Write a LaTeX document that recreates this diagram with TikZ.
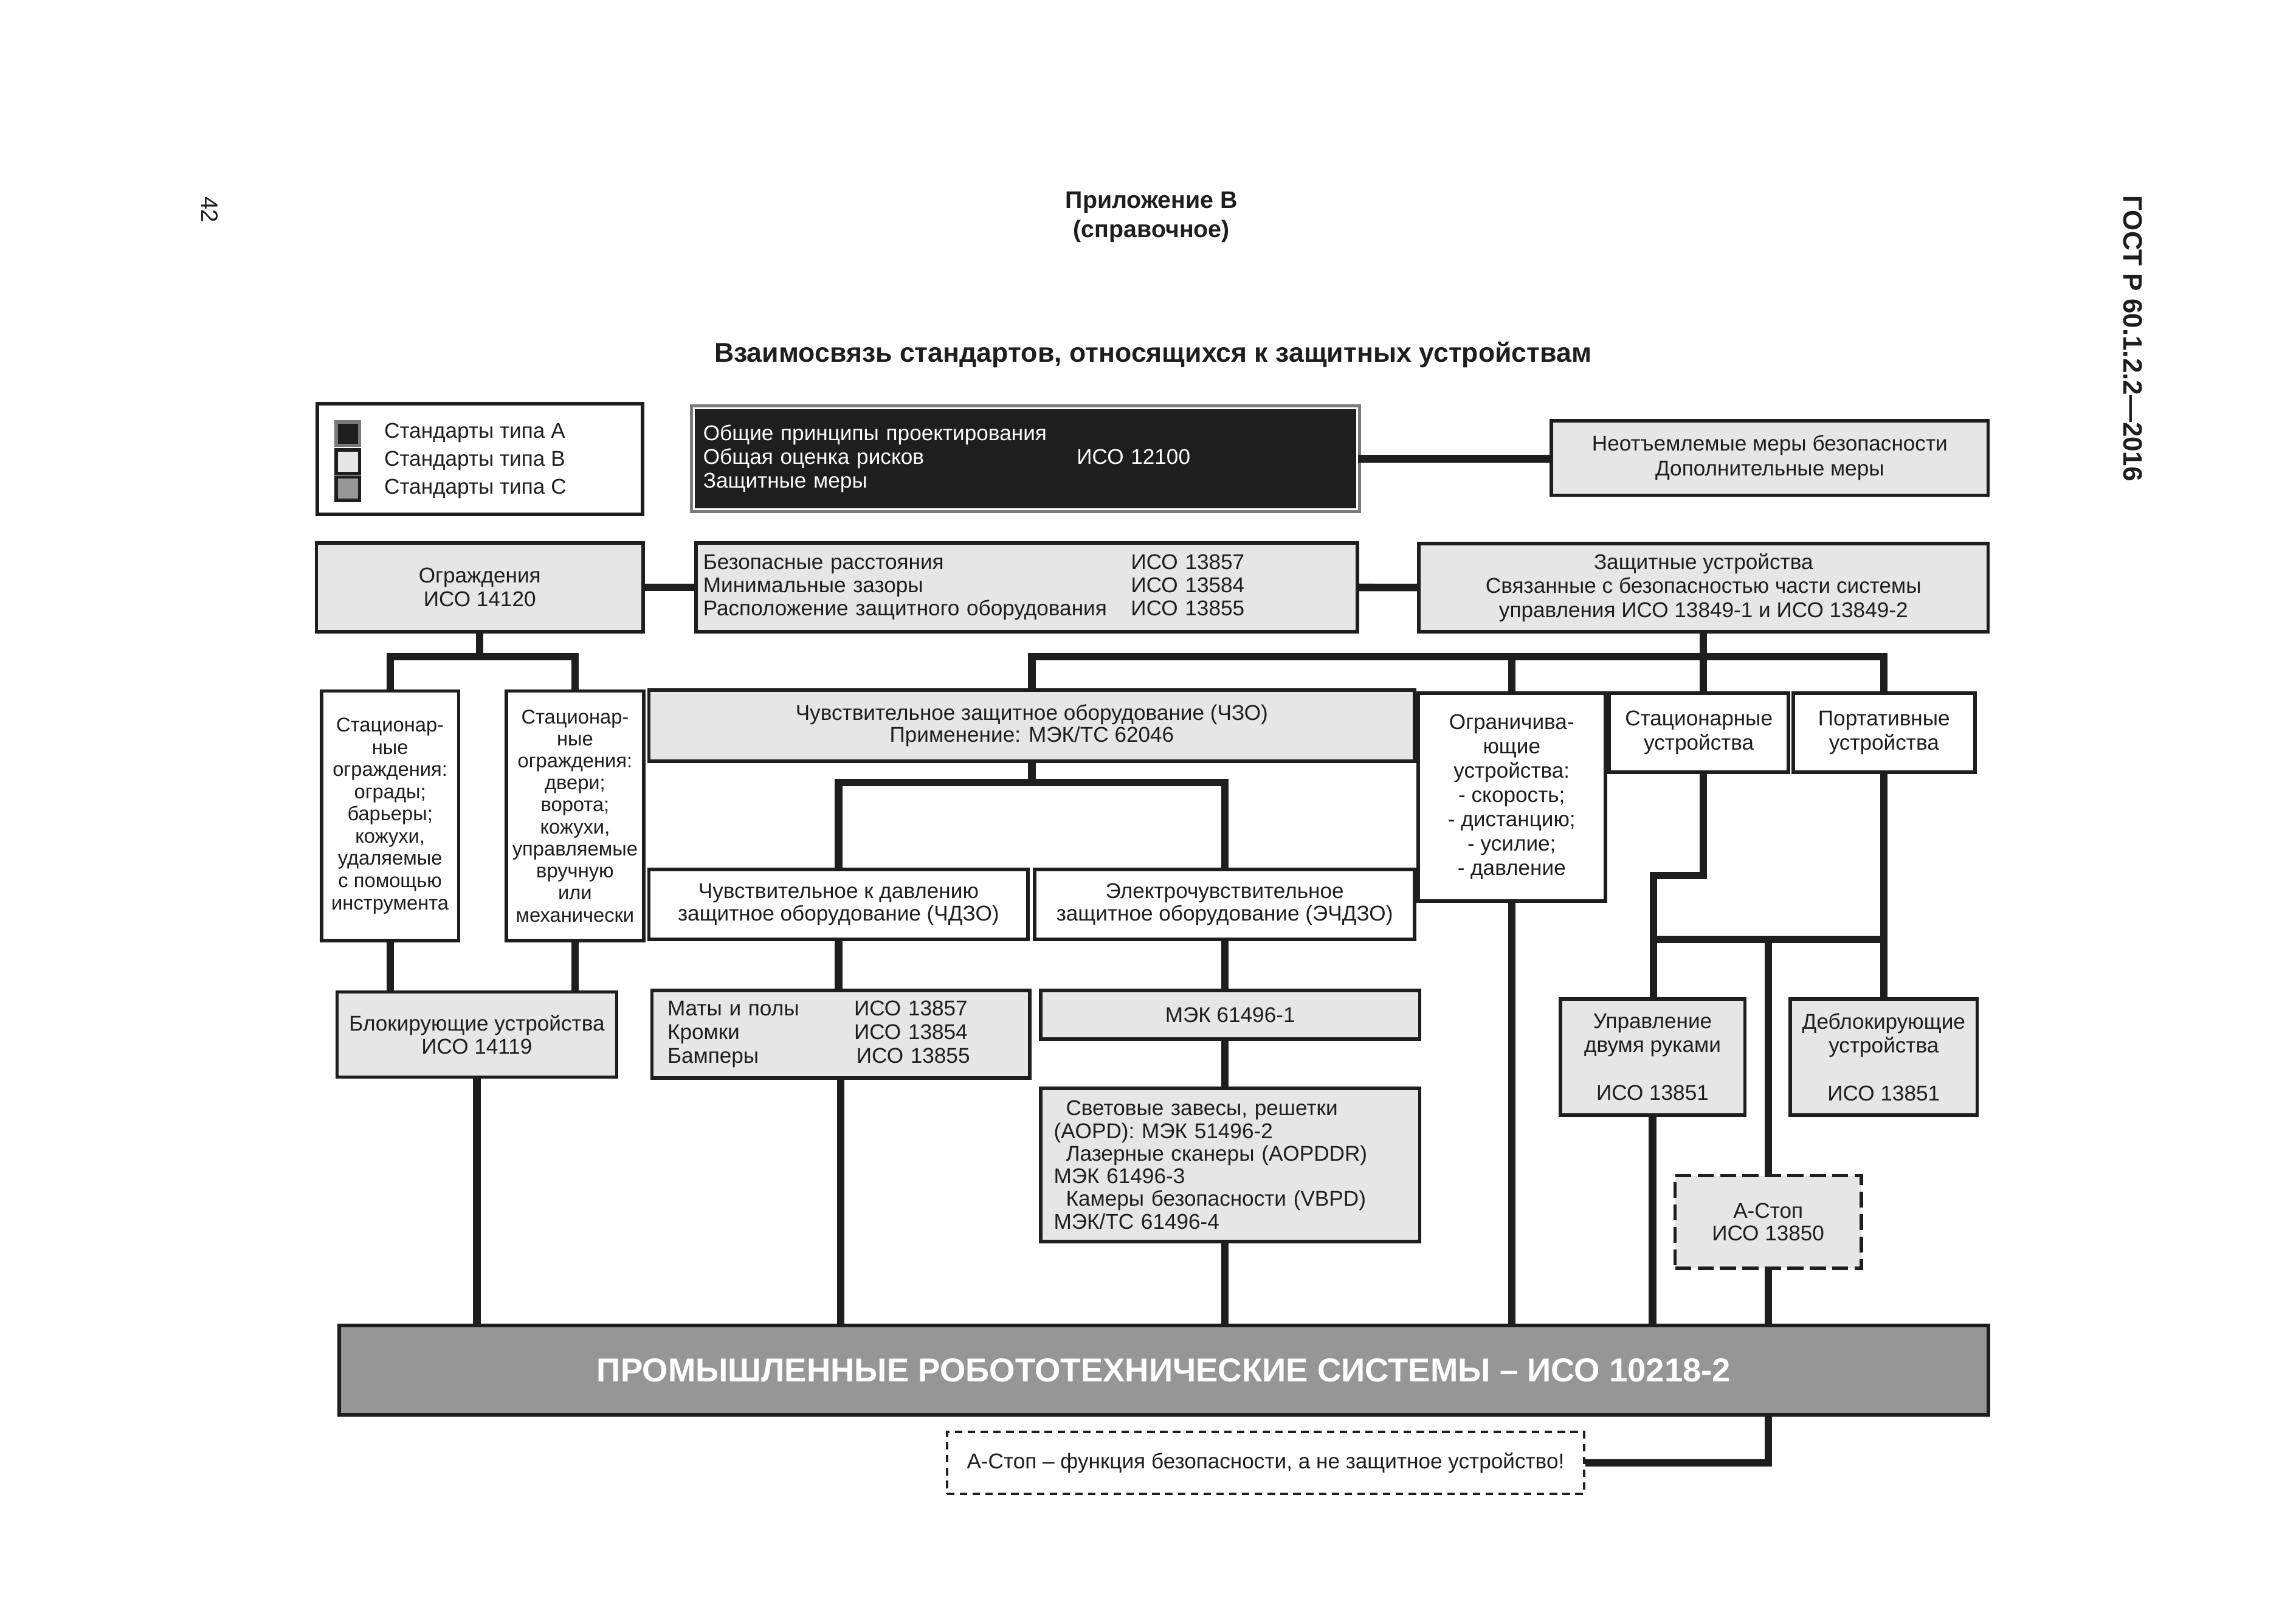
\documentclass[tikz,border=0pt]{standalone}
\usepackage{fontspec}
\setmainfont{Liberation Sans}

\definecolor{linec}{HTML}{1E1E1E}
\definecolor{boxg}{HTML}{E6E6E6}
\definecolor{robotg}{HTML}{969696}
\definecolor{frameg}{HTML}{7A7A7A}

\newlength\pxu
\setlength\pxu{0.0241cm}
\newcommand\bodyfont{\fontsize{10}{11}\selectfont}

\tikzset{
    box/.style={draw=linec, line width=1.6pt, inner sep=0pt, align=center, text=linec, font=\bodyfont},
    wbox/.style={box, fill=white},
    gbox/.style={box, fill=boxg},
    link/.style={draw=linec, line width=3.5pt},
    keysq/.style={draw=linec, line width=1.5pt, minimum size=16\pxu, inner sep=0pt},
    keytext/.style={anchor=west, inner sep=0pt, text=linec, font=\bodyfont},
    stopbox/.style={gbox, dash pattern=on 7.5pt off 3pt},
    notebox/.style={wbox, line width=1.3pt, dash pattern=on 3.5pt off 2.5pt},
}

\begin{document}
\begin{tikzpicture}[x=0.0241cm, y=-0.0241cm]
        \useasboundingbox (0,0) rectangle (1567.2,1107.9);

        % page head
        \node[rotate=-90, text=linec, font=\fontsize{11}{13}\selectfont] (page) at (143,143) {42};
        \node[align=center, text=linec, font=\bfseries\fontsize{11.2}{13.7}\selectfont] (annex) at (786,148) {Приложение В\\(справочное)};
        \node[text=linec, font=\bfseries\fontsize{12.7}{14}\selectfont] (title) at (787,242) {Взаимосвязь стандартов, относящихся к защитных устройствам};
        \node[rotate=-90, text=linec, font=\bfseries\fontsize{12.5}{14}\selectfont] (gost) at (1456,231) {ГОСТ Р 60.1.2.2—2016};

        % legend
        \node[wbox, minimum width=222\pxu, minimum height=75.5\pxu] (legend) at (327.5,313.25) {};
        \node[keysq, draw=frameg, fill=linec] (keya) at (237.5,296) {};
        \node[keysq, fill=boxg] (keyb) at (237.5,315) {};
        \node[keysq, fill=robotg] (keyc) at (237.5,333.5) {};
        \node[keytext] (keyatext) at (262,295.5) {Стандарты типа А};
        \node[keytext] (keybtext) at (262,314.5) {Стандарты типа В};
        \node[keytext] (keyctext) at (262,333.5) {Стандарты типа С};

        % type A
        \node[box, fill=linec, draw=white, line width=1pt,
            preaction={draw=frameg, line width=3.6pt},
            text=white, text width=440\pxu, inner xsep=6.4\pxu, minimum height=68.8\pxu,
            align=left, font=\fontsize{10}{11.2}\selectfont] (gen) at (700,313)
            {Общие принципы проектирования\\
             \makebox[255\pxu][l]{Общая оценка рисков}ИСО 12100\\
             Защитные меры};
        \node[gbox, minimum width=298\pxu, minimum height=51\pxu,
            font=\fontsize{10}{11.7}\selectfont] (extra) at (1208,312.5)
            {Неотъемлемые меры безопасности\\Дополнительные меры};

        % type B
        \node[gbox, minimum width=223\pxu, minimum height=60.5\pxu] (fence) at (327.5,400.75)
            {Ограждения\\ИСО 14120};
        \node[gbox, text width=441.5\pxu, inner xsep=5\pxu, minimum height=60.5\pxu,
            align=left, font=\fontsize{10}{10.9}\selectfont] (dist) at (700.75,400.75)
            {\makebox[292\pxu][l]{Безопасные расстояния}ИСО 13857\\
             \makebox[292\pxu][l]{Минимальные зазоры}ИСО 13584\\
             \makebox[292\pxu][l]{Расположение защитного оборудования}ИСО 13855};
        \node[gbox, minimum width=388.5\pxu, minimum height=60\pxu,
            font=\fontsize{10}{11.2}\selectfont] (pdev) at (1162.75,401)
            {Защитные устройства\\Связанные с безопасностью части системы\\управления ИСО 13849-1 и ИСО 13849-2};

        \node[wbox, minimum width=93.5\pxu, minimum height=170.5\pxu,
            font=\fontsize{9.3}{10.4}\selectfont] (fixa) at (266.25,556.75)
            {Стационар-\\ные\\ограждения:\\ограды;\\барьеры;\\кожухи,\\удаляемые\\с помощью\\инструмента};
        \node[wbox, minimum width=93.8\pxu, minimum height=170.5\pxu,
            font=\fontsize{9.3}{10.3}\selectfont] (fixb) at (392.5,556.75)
            {Стационар-\\ные\\ограждения:\\двери;\\ворота;\\кожухи,\\управляемые\\вручную\\или\\механически};
        \node[gbox, minimum width=522.6\pxu, minimum height=48.4\pxu,
            font=\fontsize{10}{10.4}\selectfont] (spe) at (704.3,495.2)
            {Чувствительное защитное оборудование (ЧЗО)\\Применение: МЭК/ТС 62046};
        \node[wbox, minimum width=127.7\pxu, minimum height=141.8\pxu,
            font=\fontsize{10}{11.4}\selectfont] (lim) at (1031.85,543.9)
            {Ограничива-\\ющие\\устройства:\\- скорость;\\- дистанцию;\\- усилие;\\- давление};
        \node[wbox, minimum width=122.4\pxu, minimum height=54\pxu,
            font=\fontsize{10}{11.4}\selectfont] (stat) at (1159.6,500)
            {Стационарные\\устройства};
        \node[wbox, minimum width=124\pxu, minimum height=54\pxu,
            font=\fontsize{10}{11.4}\selectfont] (port) at (1286,500)
            {Портативные\\устройства};

        \node[wbox, minimum width=258.7\pxu, minimum height=47.6\pxu,
            font=\fontsize{10}{10.4}\selectfont] (pspe) at (572.35,617.2)
            {Чувствительное к давлению\\защитное оборудование (ЧДЗО)};
        \node[wbox, minimum width=259.3\pxu, minimum height=47.6\pxu,
            font=\fontsize{10}{10.4}\selectfont] (espe) at (835.95,617.2)
            {Электрочувствительное\\защитное оборудование (ЭЧДЗО)};

        \node[gbox, minimum width=191\pxu, minimum height=58\pxu] (lock) at (325.5,706)
            {Блокирующие устройства\\ИСО 14119};
        \node[gbox, text width=236.6\pxu, inner xsep=10.6\pxu, minimum height=59.7\pxu,
            align=left, font=\fontsize{10}{11.1}\selectfont] (mats) at (573.9,705.85)
            {\makebox[127.4\pxu][l]{Маты и полы}ИСО 13857\\
             \makebox[127.4\pxu][l]{Кромки}ИСО 13854\\
             \makebox[129\pxu][l]{Бамперы}ИСО 13855};
        \node[gbox, minimum width=258.6\pxu, minimum height=33\pxu] (iec) at (839.7,692.5)
            {МЭК 61496-1};
        \node[gbox, text width=240.8\pxu, inner xsep=8.9\pxu, minimum height=104.5\pxu,
            align=left, font=\fontsize{10}{10.6}\selectfont] (aopd) at (839.7,794.95)
            {\hspace*{8.3\pxu}Световые завесы, решетки\\
             (AOPD): МЭК 51496-2\\
             \hspace*{8.3\pxu}Лазерные сканеры (AOPDDR)\\
             МЭК 61496-3\\
             \hspace*{8.3\pxu}Камеры безопасности (VBPD)\\
             МЭК/ТС 61496-4};

        \node[gbox, minimum width=126\pxu, minimum height=79.3\pxu,
            font=\fontsize{10}{11.2}\selectfont] (twoh) at (1128,721.35)
            {Управление\\двумя руками\\[11.2pt]ИСО 13851};
        \node[gbox, minimum width=127.6\pxu, minimum height=79.3\pxu,
            font=\fontsize{10}{11.2}\selectfont] (enab) at (1285.8,721.35)
            {Деблокирующие\\устройства\\[11.2pt]ИСО 13851};
        \node[stopbox, minimum width=127\pxu, minimum height=63.3\pxu,
            font=\fontsize{10}{10.7}\selectfont] (astop) at (1206.9,833.95)
            {А-Стоп\\ИСО 13850};

        % type C
        \node[box, fill=robotg, minimum width=1125.8\pxu, minimum height=61\pxu,
            text=white, font=\bfseries\fontsize{15.5}{18}\selectfont] (robot) at (794.4,935.1)
            {ПРОМЫШЛЕННЫЕ РОБОТОТЕХНИЧЕСКИЕ СИСТЕМЫ – ИСО 10218-2};
        \node[notebox, minimum width=434.9\pxu, minimum height=42.2\pxu] (note) at (863.85,998.3)
            {А-Стоп – функция безопасности, а не защитное устройство!};

        % links
        \coordinate (fenceJ) at (327.5,448);
        \coordinate (pdevJ) at (1162.75,448);
        \coordinate (speJ) at (704.3,534);
        \coordinate (statJ) at (1128.6,597.6);
        \coordinate (devJ) at (1206.9,641);

        \draw[link] (gen.east) -- (gen.east -| extra.west);
        \draw[link] (fence) -- (dist);
        \draw[link] (dist) -- (pdev);

        \draw[link] (fence.south) -- (fenceJ);
        \draw[link] (fixa.north) |- (fenceJ) -| (fixb.north);
        \draw[link] (fixa.south) -- (fixa.south |- lock.north);
        \draw[link] (fixb.south) -- (fixb.south |- lock.north);
        \draw[link] (lock.south) -- (lock.south |- robot.north);

        \draw[link] (pdev.south) -- (pdevJ);
        \draw[link] (spe.north) |- (pdevJ) -| (port.north);
        \draw[link] (lim.north) -- (lim.north |- pdevJ);
        \draw[link] (pdevJ) -- (pdevJ |- stat.north);

        \draw[link] (spe.south) -- (speJ);
        \draw[link] (pspe.north) |- (speJ) -| (espe.north);
        \draw[link] (pspe.south) -- (pspe.south |- mats.north);
        \draw[link] (mats.south) -- (mats.south |- robot.north);
        \draw[link] (espe.south) -- (espe.south |- iec.north);
        \draw[link] (espe.south |- iec.south) -- (espe.south |- aopd.north);
        \draw[link] (espe.south |- aopd.south) -- (espe.south |- robot.north);

        \draw[link] (lim.south) -- (lim.south |- robot.north);
        \draw[link] (pdevJ |- stat.south) |- (statJ) -- (statJ |- twoh.north);
        \draw[link] (statJ |- devJ) -- (port.south |- devJ);
        \draw[link] (port.south) -- (port.south |- enab.north);
        \draw[link] (devJ) -- (astop.north);
        \draw[link] (twoh.south) -- (twoh.south |- robot.north);
        \draw[link] (astop.south) -- (astop.south |- robot.north);
        \draw[link] (astop.south |- robot.south) |- (note.east);
    \end{tikzpicture}
\end{document}
